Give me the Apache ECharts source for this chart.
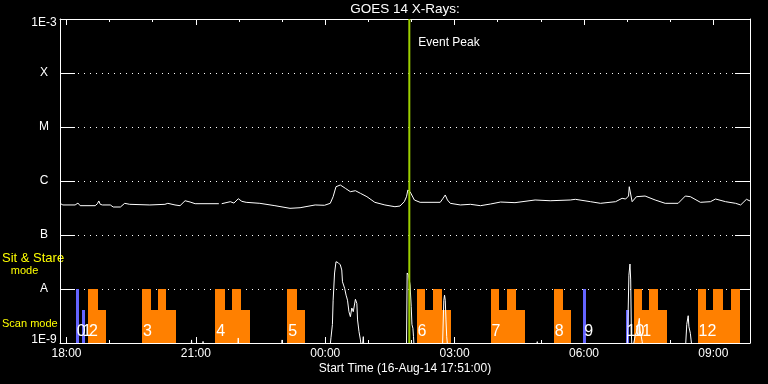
<!DOCTYPE html>
<html><head><meta charset="utf-8">
<script src="https://cdn.jsdelivr.net/npm/echarts@6/dist/echarts.min.js"></script>
<style>html,body{margin:0;padding:0;background:#000}#c{width:768px;height:384px}</style>
</head><body><div id="c"></div>
<script>
// ---- axis range / ticks ----
const START = '17:51', END = '09:51';
const xMajorTicks = ['18:00','21:00','00:00','03:00','06:00','09:00'];
const xMinorTicks = ['18:00','19:00','20:00','21:00','22:00','23:00','00:00','01:00','02:00','03:00','04:00','05:00','06:00','07:00','08:00','09:00'];
const yTickValues = [1e-9,1e-8,1e-7,1e-6,1e-5,1e-4,1e-3];
const yTickLabels = ['1E-9','A','B','C','M','X','1E-3'];

// ---- GOES long channel (1-8 A) ----
const longTimes = ['17:51','17:55','18:12','18:16','18:19','18:40','18:43','18:45','18:47','18:50','19:01','19:05','19:15','19:21','19:28','19:56','20:17','20:21','20:31','20:38','20:45','20:52','20:59','21:32','21:34','21:36','21:48','21:53','21:59','22:04','22:10','22:29','22:50','23:11','23:25','23:46','23:59','00:07','00:11','00:15','00:21','00:28','00:35','00:42','00:49','00:58','01:09','01:23','01:37','01:44','01:50','01:53','01:55','01:58','02:04','02:12','02:40','02:44','02:47','02:50','02:54','03:08','03:22','03:36','03:50','04:04','04:24','04:52','05:13','05:41','05:48','06:09','06:23','06:44','06:53','06:58','07:02','07:03','07:04','07:07','07:13','07:25','07:39','07:53','08:11','08:21','08:28','08:42','08:56','09:03','09:17','09:31','09:38','09:46','09:51'];
const longFlux = [3.86e-7,3.6e-7,3.6e-7,3.9e-7,3.49e-7,3.49e-7,3.8e-7,4.27e-7,3.7e-7,3.6e-7,3.6e-7,3.3e-7,3.3e-7,3.86e-7,3.7e-7,3.6e-7,3.7e-7,3.86e-7,3.6e-7,3.49e-7,4.31e-7,4.08e-7,3.8e-7,3.8e-7,null,3.8e-7,4.14e-7,3.9e-7,4.7e-7,4.2e-7,4.03e-7,3.86e-7,3.49e-7,3.12e-7,3.2e-7,3.6e-7,3.55e-7,3.86e-7,5.12e-7,7.84e-7,8.43e-7,7.32e-7,6.34e-7,6.61e-7,5.91e-7,5.12e-7,4.03e-7,3.6e-7,3.34e-7,3.44e-7,4.14e-7,5.1e-7,6.81e-7,6.34e-7,4.45e-7,4.03e-7,4.03e-7,4.8e-7,5.51e-7,4.45e-7,3.86e-7,3.6e-7,3.7e-7,3.49e-7,3.75e-7,4.08e-7,3.97e-7,4.45e-7,4.31e-7,4.45e-7,4.58e-7,4.14e-7,3.86e-7,4.14e-7,4.78e-7,4.64e-7,5.27e-7,7.84e-7,7.4e-7,4.14e-7,5.12e-7,5.27e-7,4.45e-7,3.86e-7,3.86e-7,5.27e-7,5.12e-7,4.03e-7,4.14e-7,4.64e-7,4.14e-7,3.86e-7,3.6e-7,4.58e-7,4.27e-7];

// ---- GOES short channel (0.5-4 A) ----
const shortTimes = ['17:51','20:53','20:54','20:55','21:09','21:10','21:11','21:58','21:59','22:00','22:59','23:00','23:01','00:06','00:08','00:10','00:11','00:13','00:15','00:18','00:21','00:23','00:24','00:27','00:29','00:31','00:33','00:35','00:37','00:39','00:42','00:44','00:45','00:47','00:49','00:51','00:52','00:53','00:54','01:53','01:54','01:56','01:58','01:59:40','02:00:40','02:02','02:02:50','02:04','02:43','02:45','02:46','02:47','02:48','02:49','02:51','04:54','04:55','04:56','07:00','07:01','07:02:30','07:04','07:05','07:06','07:07','07:11','07:14','07:16','07:17','07:18','07:21','07:22','08:21','08:23','08:25','08:26','08:28','08:29','08:31','09:51'];
const shortFlux = [7e-10,7e-10,1.14e-9,7e-10,7e-10,1.07e-9,7e-10,7e-10,1.24e-9,7e-10,7e-10,1.14e-9,7e-10,7e-10,1.25e-9,2.2e-9,6.2e-9,1.98e-8,3.2e-8,3.07e-8,2.8e-8,2.25e-8,1.36e-8,1.03e-8,7.7e-9,6.2e-9,3.8e-9,3.07e-9,4.45e-9,3.8e-9,6.45e-9,5.4e-9,2.67e-9,1.62e-9,1.14e-9,7e-10,7e-10,1.31e-9,7e-10,7e-10,1.98e-8,1.8e-8,1.19e-8,4.7e-9,2.2e-9,1.87e-9,1.31e-9,7e-10,7e-10,6.2e-9,7.7e-9,6.2e-9,2.67e-9,1.31e-9,7e-10,7e-10,1.06e-9,7e-10,7e-10,1.9e-9,1.8e-8,2.9e-8,1.47e-8,1.4e-9,7e-10,1.31e-9,1.74e-9,1.87e-9,2.86e-9,1.74e-9,1.06e-9,7e-10,7e-10,2.2e-9,3.2e-9,2.0e-9,1.51e-9,1.14e-9,7e-10,7e-10];

// ---- observing mode segments ----
const segStart = ['18:13','18:21','18:30','18:44','19:45','19:57','20:07','20:19','21:27','21:40','21:50','22:03','23:07','23:21','02:07','02:19','02:30','02:42','03:50','04:02','04:13','04:26','05:18','05:31','05:59','06:58','07:09','07:21','07:31','07:43','08:38','08:50','09:00','09:14','09:24'];
const segEnd   = ['18:17','18:26','18:44','18:55','19:57','20:07','20:19','20:32','21:40','21:50','22:03','22:15','23:21','23:32','02:19','02:30','02:42','02:55','04:02','04:13','04:26','04:38','05:31','05:42','06:03','07:02','07:21','07:31','07:43','07:56','08:50','09:00','09:14','09:24','09:37'];
const segTop   = [1e-8,4.1e-9,1e-8,4.1e-9,1e-8,4.1e-9,1e-8,4.1e-9,1e-8,4.1e-9,1e-8,4.1e-9,1e-8,4.1e-9,1e-8,4.1e-9,1e-8,4.1e-9,1e-8,4.1e-9,1e-8,4.1e-9,1e-8,4.1e-9,1e-8,4.1e-9,1e-8,4.1e-9,1e-8,4.1e-9,1e-8,4.1e-9,1e-8,4.1e-9,1e-8];
const segMode  = ['stare','stare','scan','scan','scan','scan','scan','scan','scan','scan','scan','scan','scan','scan','scan','scan','scan','scan','scan','scan','scan','scan','scan','scan','stare','stare','scan','scan','scan','scan','scan','scan','scan','scan','scan'];
const scanLabels     = ['0','1','2','3','4','5','6','7','8','9','10','11','12'];
const scanLabelTimes = ['18:13','18:21','18:30','19:45','21:27','23:07','02:07','03:50','05:18','05:59','06:58','07:09','08:38'];

const eventTime = '01:57';
const eventText = 'Event Peak';
const titleText = 'GOES 14 X-Rays:';
const xAxisTitle = 'Start Time (16-Aug-14 17:51:00)';

// ---- styles ----
const FONT = '"Liberation Sans", Arial, sans-serif';
const MODE_COLORS = {scan:'#ff8000', stare:'#6464ff'};
const EVENT_COLOR = '#9ccf00';
const YELLOW = '#ffff00';

function base(){ const p = START.split(':').map(Number); return p[0]*60+p[1]; }
const S0 = base();
function toMin(s){
  const p = s.split(':').map(Number);
  let m = p[0]*60 + p[1] + (p[2]||0)/60;
  if (m < S0) m += 1440;
  return m;
}
const S1 = toMin(END);
function fmtTime(v){
  const m = Math.round(v) % 1440;
  const h = Math.floor(m/60), mm = m%60;
  return String(h).padStart(2,'0') + ':' + String(mm).padStart(2,'0');
}
const majorVals = xMajorTicks.map(toMin);
const minorVals = xMinorTicks.map(toMin);
const yMin = yTickValues[0], yMax = yTickValues[yTickValues.length-1];

const white = {color:'#fff', width:1};
const xBase = {type:'value', min:S0, max:S1, gridIndex:0, splitLine:{show:false},
  axisLine:{show:false, onZero:false}, axisLabel:{show:false}, axisTick:{show:false}, axisPointer:{show:false}};

const chart = echarts.init(document.getElementById('c'), null, {renderer:'canvas'});
chart.setOption({
  backgroundColor:'#000',
  animation:false,
  grid:{left:60, top:19, width:690, height:324, containLabel:false, outerBoundsMode:'none'},
  xAxis:[
    Object.assign({}, xBase, {position:'bottom',
      axisLine:{show:true, onZero:false, lineStyle:white},
      axisTick:{show:true, inside:true, length:6, lineStyle:white, customValues:majorVals},
      axisLabel:{show:true, customValues:majorVals, formatter:fmtTime, color:'#fff', fontFamily:FONT, fontSize:12, margin:5}}),
    Object.assign({}, xBase, {position:'bottom',
      axisTick:{show:true, inside:true, length:3, lineStyle:white, customValues:minorVals}}),
    Object.assign({}, xBase, {position:'top',
      axisLine:{show:true, onZero:false, lineStyle:white},
      axisTick:{show:true, inside:true, length:6, lineStyle:white, customValues:majorVals}}),
    Object.assign({}, xBase, {position:'top',
      axisTick:{show:true, inside:true, length:3, lineStyle:white, customValues:minorVals}})
  ],
  yAxis:[
    {type:'log', logBase:10, min:yMin, max:yMax, position:'left', splitNumber:6,
     axisLine:{show:true, onZero:false, lineStyle:white},
     axisTick:{show:true, inside:true, length:15, lineStyle:white},
     axisLabel:{show:true, color:'#fff', fontFamily:FONT, fontSize:12, align:'center', margin:16,
       formatter:function(v){
         const e = Math.round(Math.log10(v));
         const i = yTickValues.findIndex(t => Math.round(Math.log10(t)) === e);
         const lbl = i >= 0 ? yTickLabels[i] : '';
         if (i === yTickValues.length-1) return '{t|' + lbl + '}';
         if (i === 0) return '{b|' + lbl + '}';
         return lbl;
       },
       rich:{t:{padding:[8,0,0,0], color:'#fff', fontFamily:FONT, fontSize:12},
             b:{padding:[0,0,6,0], color:'#fff', fontFamily:FONT, fontSize:12}}},
     splitLine:{show:true, lineStyle:{color:'#fff', width:1, type:[1,5]}}},
    {type:'log', logBase:10, min:yMin, max:yMax, position:'right', splitNumber:6,
     axisLine:{show:true, onZero:false, lineStyle:white},
     axisTick:{show:true, inside:true, length:15, lineStyle:white},
     axisLabel:{show:false}, splitLine:{show:false}}
  ],
  series:[
    {type:'custom', name:'modes', xAxisIndex:0, yAxisIndex:0, z:1,
     data: segStart.map((s,i) => [toMin(s), toMin(segEnd[i]), segTop[i]]),
     encode:{x:[0,1], y:2},
     renderItem:function(params, api){
       const i = params.dataIndex;
       const p0 = api.coord([api.value(0), yMin]);
       const p1 = api.coord([api.value(1), api.value(2)]);
       const x0 = Math.round(p0[0]), x1 = Math.round(p1[0]);
       const yb = Math.round(p0[1]), yt = Math.round(p1[1]);
       return {type:'rect', shape:{x:x0, y:yt, width:Math.max(1, x1-x0), height:yb-yt},
               style:{fill:MODE_COLORS[segMode[i]]}};
     }},
    {type:'custom', name:'labels', xAxisIndex:0, yAxisIndex:0, z:2,
     data: scanLabelTimes.map(t => [toMin(t), yMin]),
     encode:{x:0, y:1},
     renderItem:function(params, api){
       const i = params.dataIndex;
       const p = api.coord([api.value(0), yMin]);
       return {type:'text', x:p[0]+1, y:p[1]-3,
               style:{text:scanLabels[i], fill:'#fff', font:'16px ' + FONT,
                      textAlign:'left', align:'left', textVerticalAlign:'bottom', verticalAlign:'bottom'}};
     }},
    {type:'line', name:'short', xAxisIndex:0, yAxisIndex:0, z:3,
     data: shortTimes.map((t,i) => [toMin(t), shortFlux[i]]),
     symbol:'none', showSymbol:false, connectNulls:false, clip:true,
     lineStyle:{color:'#fff', width:1}},
    {type:'line', name:'long', xAxisIndex:0, yAxisIndex:0, z:3,
     data: longTimes.map((t,i) => [toMin(t), longFlux[i]]),
     symbol:'none', showSymbol:false, connectNulls:false,
     lineStyle:{color:'#fff', width:1}},
    {type:'custom', name:'event', xAxisIndex:0, yAxisIndex:0, z:4,
     data:[[toMin(eventTime), yMax]],
     encode:{x:0, y:1},
     renderItem:function(params, api){
       const top = api.coord([api.value(0), yMax]);
       const bot = api.coord([api.value(0), yMin]);
       return {type:'group', children:[
         {type:'line', shape:{x1:top[0], y1:top[1], x2:bot[0], y2:bot[1]}, style:{stroke:EVENT_COLOR, lineWidth:2}},
         {type:'text', x:top[0]+9, y:top[1]+24,
          style:{text:eventText, fill:'#fff', font:'12px ' + FONT, textAlign:'left', align:'left', textVerticalAlign:'middle', verticalAlign:'middle'}}
       ]};
     }}
  ],
  graphic:[
    {type:'text', x:405, y:9.5, silent:true, style:{text:titleText, fill:'#fff', font:'13.5px ' + FONT, align:'center', verticalAlign:'middle'}},
    {type:'text', x:405, y:368.5, silent:true, style:{text:xAxisTitle, fill:'#fff', font:'12px ' + FONT, align:'center', verticalAlign:'middle'}},
    {type:'text', x:2, y:258.5, silent:true, style:{text:'Sit & Stare', fill:YELLOW, font:'13px ' + FONT, align:'left', verticalAlign:'middle'}},
    {type:'text', x:24.5, y:271, silent:true, style:{text:'mode', fill:YELLOW, font:'11px ' + FONT, align:'center', verticalAlign:'middle'}},
    {type:'text', x:2, y:323.5, silent:true, style:{text:'Scan mode', fill:YELLOW, font:'11px ' + FONT, align:'left', verticalAlign:'middle'}}
  ]
});
</script>
</body></html>
